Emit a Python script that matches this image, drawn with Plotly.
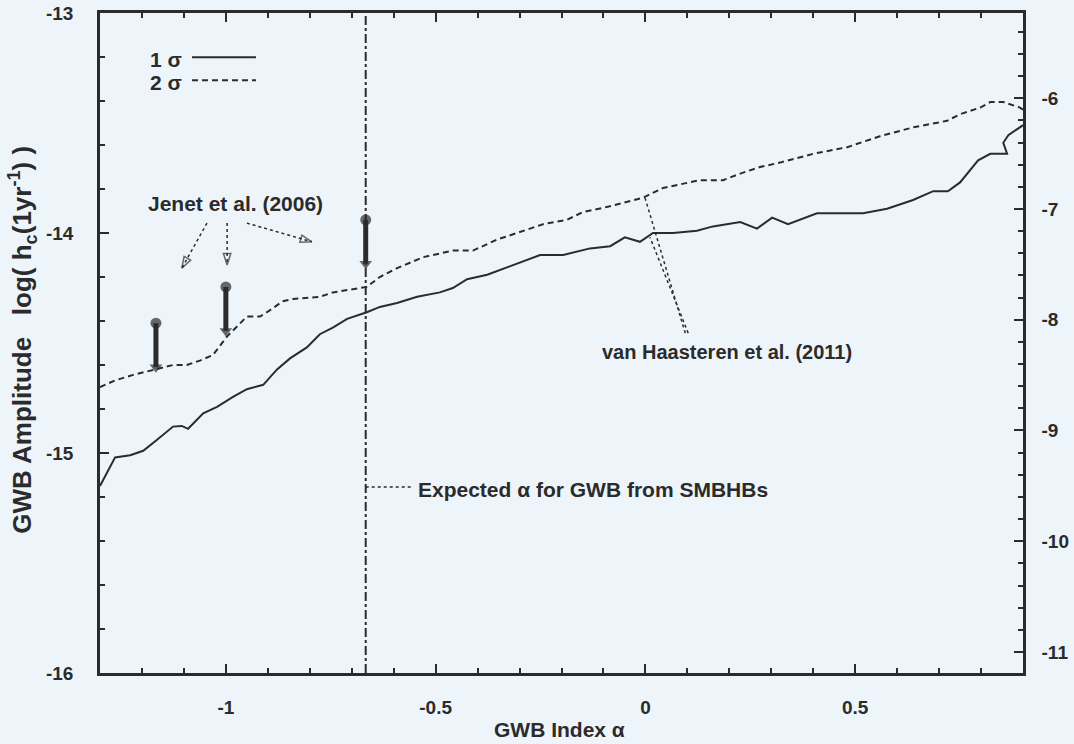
import plotly.graph_objects as go

# GWB upper limits versus spectral index alpha
alpha_1sigma = [-1.300, -1.264, -1.228, -1.197, -1.164, -1.126, -1.105, -1.090, -1.054, -1.021,
                -0.983, -0.950, -0.911, -0.878, -0.847, -0.807, -0.776, -0.745, -0.711, -0.680,
                -0.664, -0.633, -0.592, -0.544, -0.490, -0.459, -0.425, -0.377, -0.306, -0.251,
                -0.196, -0.132, -0.084, -0.049, -0.013, 0.018, 0.066, 0.123, 0.161, 0.226,
                0.266, 0.302, 0.340, 0.409, 0.519, 0.576, 0.638, 0.686, 0.721, 0.750,
                0.793, 0.822, 0.862, 0.853, 0.865, 0.893, 0.900]
logA_1sigma = [-15.15, -15.02, -15.01, -14.99, -14.94, -14.88, -14.877, -14.89, -14.82, -14.79,
               -14.745, -14.71, -14.69, -14.62, -14.57, -14.52, -14.46, -14.43, -14.39, -14.37,
               -14.36, -14.336, -14.318, -14.29, -14.27, -14.25, -14.21, -14.19, -14.14, -14.10,
               -14.10, -14.07, -14.06, -14.02, -14.04, -14.00, -14.00, -13.99, -13.97, -13.95,
               -13.98, -13.93, -13.96, -13.91, -13.91, -13.89, -13.85, -13.81, -13.81, -13.77,
               -13.67, -13.64, -13.64, -13.59, -13.555, -13.52, -13.51]

alpha_2sigma = [-1.300, -1.264, -1.221, -1.164, -1.126, -1.093, -1.062, -1.031, -0.997, -0.950,
                -0.919, -0.902, -0.864, -0.840, -0.807, -0.776, -0.745, -0.680, -0.664, -0.633,
                -0.592, -0.530, -0.459, -0.411, -0.354, -0.306, -0.244, -0.187, -0.149, -0.101,
                -0.006, 0.042, 0.066, 0.130, 0.185, 0.226, 0.273, 0.321, 0.400, 0.481,
                0.559, 0.638, 0.719, 0.750, 0.798, 0.822, 0.853, 0.876, 0.893, 0.900]
logA_2sigma = [-14.70, -14.67, -14.645, -14.62, -14.60, -14.60, -14.58, -14.555, -14.47, -14.38,
               -14.38, -14.36, -14.31, -14.30, -14.295, -14.29, -14.27, -14.25, -14.245, -14.20,
               -14.16, -14.11, -14.08, -14.08, -14.03, -14.00, -13.96, -13.94, -13.905, -13.886,
               -13.84, -13.795, -13.785, -13.76, -13.76, -13.73, -13.70, -13.68, -13.64, -13.61,
               -13.56, -13.52, -13.49, -13.46, -13.43, -13.405, -13.405, -13.42, -13.43, -13.44]

# Jenet et al. (2006) upper limits
jenet_alpha = [-7 / 6, -1.0, -2 / 3]
jenet_limit = [-14.41, -14.245, -13.94]

# expected index for a background from SMBH binaries
alpha_smbhb = -2 / 3

x_tick_vals = [-1, -0.5, 0, 0.5]
x_tick_text = ["-1", "-0.5", "0", "0.5"]
y_tick_vals = [-16, -15, -14, -13]
y_tick_text = ["-16", "-15", "-14", "-13"]
y2_tick_vals = [-11, -10, -9, -8, -7, -6]
y2_tick_text = ["-11", "-10", "-9", "-8", "-7", "-6"]

INK = "#2b2b2b"
BG = "#eef5fa"
FAMILY = "Liberation Sans, Arial, sans-serif"
TICK_FONT = dict(family=FAMILY, size=19, color=INK, weight="bold")
TEXT_FONT = dict(family=FAMILY, size=21, color=INK, weight="bold")
YTITLE_FONT = dict(family=FAMILY, size=26, color=INK, weight="bold")

fig = go.Figure()

# expected alpha (vertical dash-dot line)
fig.add_trace(go.Scatter(x=[alpha_smbhb, alpha_smbhb], y=[-16, -13], mode="lines",
                         line=dict(color=INK, width=2, dash="dashdot"), showlegend=False,
                         hoverinfo="skip"))

fig.add_trace(go.Scatter(x=alpha_1sigma, y=logA_1sigma, mode="lines", name="1 σ",
                         line=dict(color=INK, width=2), showlegend=False))
fig.add_trace(go.Scatter(x=alpha_2sigma, y=logA_2sigma, mode="lines", name="2 σ",
                         line=dict(color=INK, width=2, dash="6px,4px"), showlegend=False))

# upper-limit arrows
for a, v in zip(jenet_alpha, jenet_limit):
    fig.add_trace(go.Scatter(x=[a, a], y=[v, v - 0.2], mode="lines+markers",
                             line=dict(color=INK, width=5),
                             marker=dict(symbol=["circle", "triangle-down"], size=[11, 11],
                                         color=INK, line=dict(width=0)),
                             showlegend=False))

# dotted pointer lines
def pointer(x0, y0, x1, y1, head=True):
    fig.add_trace(go.Scatter(x=[x0, x1], y=[y0, y1], mode="lines+markers" if head else "lines",
                             line=dict(color=INK, width=1.5, dash="dot"),
                             marker=dict(symbol=["circle", "arrow-open"], size=[0, 12],
                                         angleref="previous", color=INK,
                                         line=dict(color=INK, width=1.5)),
                             showlegend=False, hoverinfo="skip"))

pointer(-1.045, -13.955, -1.105, -14.16)
pointer(-0.997, -13.955, -0.997, -14.145)
pointer(-0.950, -13.955, -0.795, -14.04)
pointer(0.095, -14.455, -0.001, -13.84, head=False)
pointer(0.102, -14.455, 0.011, -14.02, head=False)
pointer(alpha_smbhb, -15.155, -0.555, -15.155, head=False)

ann = [
    dict(x=-0.976, y=-13.864, text="Jenet et al. (2006)"),
    dict(x=0.195, y=-14.54, text="van Haasteren et al. (2011)", font=dict(TEXT_FONT, size=20)),
    dict(x=-0.548, y=-15.165, text="Expected α for GWB from SMBHBs", xanchor="left"),
    dict(x=0.0905, y=0.929, xref="paper", yref="paper", text="1 σ", xanchor="right"),
    dict(x=0.0905, y=0.894, xref="paper", yref="paper", text="2 σ", xanchor="right"),
    dict(x=0.498, y=-0.086, xref="paper", yref="paper", text="GWB Index α"),
]
annotations = [dict(dict(xanchor="center", yanchor="middle", showarrow=False, font=TEXT_FONT), **a)
               for a in ann]
nb = "\u00a0"
annotations.append(dict(x=-0.0845, y=0.505, xref="paper", yref="paper", textangle=-90,
                        showarrow=False, xanchor="center", yanchor="middle", font=YTITLE_FONT,
                        text=f"GWB Amplitude{nb * 3}log({nb}h<sub>c</sub>(1yr<sup>-1</sup>){nb})"))
fig.update_layout(annotations=annotations)

# legend line samples
fig.add_shape(type="line", xref="paper", yref="paper", x0=0.0997, x1=0.169, y0=0.933, y1=0.933,
              line=dict(color=INK, width=2))
fig.add_shape(type="line", xref="paper", yref="paper", x0=0.0997, x1=0.169, y0=0.898, y1=0.898,
              line=dict(color=INK, width=2, dash="6px,4px"))

# empty trace on the right-hand axis so it is drawn
fig.add_trace(go.Scatter(x=[None], y=[None], yaxis="y2", showlegend=False))

axis_common = dict(showline=True, linecolor=INK, linewidth=2.5, showgrid=False, zeroline=False,
                   tickfont=TICK_FONT, ticks="inside", tickcolor=INK, tickwidth=2,
                   automargin=False)

fig.update_layout(
    width=1074, height=744,
    margin=dict(l=100, r=51, t=13, b=71),
    paper_bgcolor=BG, plot_bgcolor=BG,
    showlegend=False,
    xaxis=dict(axis_common, range=[-1.3, 0.9], tickmode="array", tickvals=x_tick_vals,
               ticktext=x_tick_text, ticklen=9, mirror="ticks", ticklabelstandoff=15,
               minor=dict(dtick=0.1, tick0=0, ticks="inside", ticklen=5, tickcolor=INK,
                          tickwidth=2)),
    yaxis=dict(axis_common, range=[-16, -13], tickmode="array", tickvals=y_tick_vals,
               ticktext=y_tick_text, ticklen=9, mirror=True, ticklabelstandoff=20,
               minor=dict(dtick=0.2, tick0=-16, ticks="inside", ticklen=5, tickcolor=INK,
                          tickwidth=2)),
    yaxis2=dict(axis_common, overlaying="y", side="right", range=[-11.19, -5.23],
                tickmode="array", tickvals=y2_tick_vals, ticktext=y2_tick_text, ticklen=9,
                ticklabelstandoff=12,
                minor=dict(dtick=0.2, tick0=-11, ticks="inside", ticklen=5, tickcolor=INK,
                           tickwidth=2)),
)

fig.write_html("out.html")
